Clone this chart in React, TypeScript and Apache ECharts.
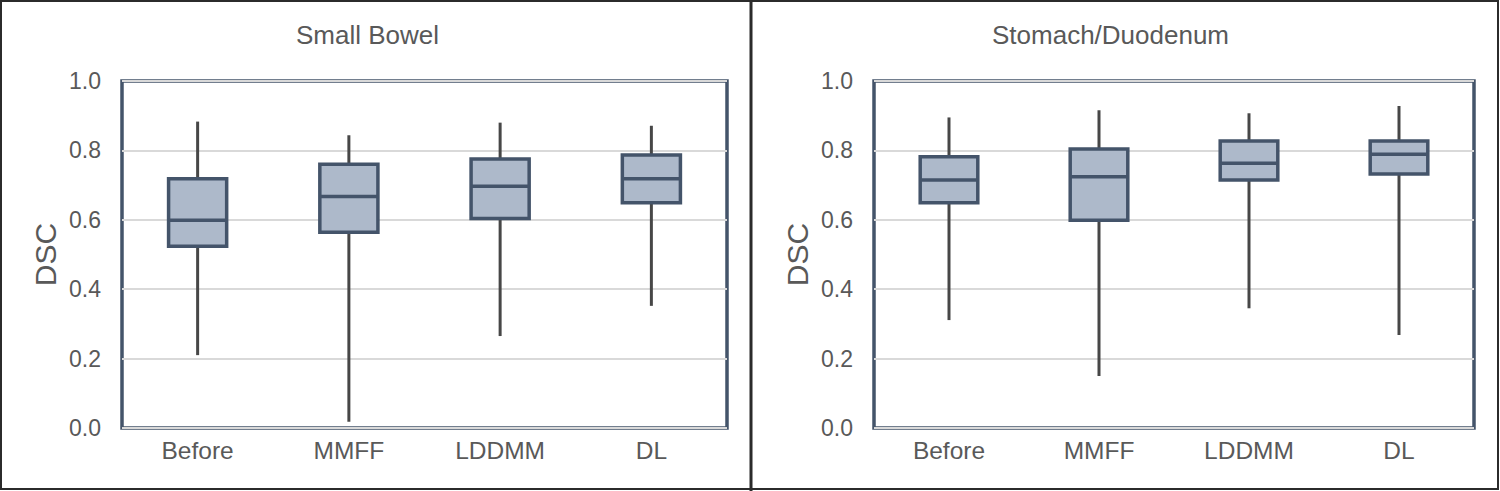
import React, { useEffect, useRef } from "react";
import * as echarts from "echarts";

const categories = ["Before", "MMFF", "LDDMM", "DL"];
const yTicks = ["0.0", "0.2", "0.4", "0.6", "0.8", "1.0"];
const panelTitles = ["Small Bowel", "Stomach/Duodenum"];

// [min, q1, median, q3, max]
const smallBowel = [
  [0.21, 0.524, 0.599, 0.718, 0.883],
  [0.018, 0.564, 0.667, 0.76, 0.844],
  [0.265, 0.604, 0.697, 0.775, 0.88],
  [0.352, 0.649, 0.718, 0.787, 0.871],
];
const stomachDuodenum = [
  [0.311, 0.649, 0.715, 0.782, 0.895],
  [0.15, 0.599, 0.724, 0.804, 0.916],
  [0.345, 0.715, 0.763, 0.827, 0.907],
  [0.268, 0.732, 0.789, 0.827, 0.928],
];

const FONT = '"Liberation Sans", Arial, sans-serif';
const TEXT = "#595959";
const BORDER = "#44546a";

function renderBox(params: any, api: any) {
  const x = api.value(0);
  const pMin = api.coord([x, api.value(1)]);
  const pQ1 = api.coord([x, api.value(2)]);
  const pMed = api.coord([x, api.value(3)]);
  const pQ3 = api.coord([x, api.value(4)]);
  const pMax = api.coord([x, api.value(5)]);
  const band = api.size([1, 0])[0];
  const hw = band * 0.192;
  const cx = pMed[0];
  return {
    type: "group",
    children: [
      {
        type: "line",
        shape: { x1: cx, y1: pMin[1], x2: cx, y2: pMax[1] },
        style: { stroke: "#474747", lineWidth: 3 },
      },
      {
        type: "rect",
        shape: { x: cx - hw, y: pQ3[1], width: hw * 2, height: pQ1[1] - pQ3[1] },
        style: { fill: "#adb9ca", stroke: BORDER, lineWidth: 3.5 },
      },
      {
        type: "line",
        shape: { x1: cx - hw, y1: pMed[1], x2: cx + hw, y2: pMed[1] },
        style: { stroke: BORDER, lineWidth: 3.5 },
      },
    ],
  };
}

export default function App() {
  const ref = useRef<HTMLDivElement>(null);
  useEffect(() => {
    if (!ref.current) return;
    const chart = echarts.init(ref.current, undefined, { renderer: "svg" });
    const grids = [
      { left: 122, top: 81, width: 605, height: 347 },
      { left: 874, top: 81, width: 600, height: 347 },
    ];
    const mkX = (i: number) => ({
      type: "category",
      gridIndex: i,
      data: categories,
      axisLine: { show: false },
      axisTick: { show: false },
      axisLabel: { color: TEXT, fontSize: 24.5, fontFamily: FONT, margin: 10 },
    });
    const mkY = (i: number) => ({
      type: "value",
      gridIndex: i,
      min: 0,
      max: 1,
      interval: 0.2,
      name: "DSC",
      nameLocation: "middle",
      nameRotate: 90,
      nameGap: 62,
      nameTextStyle: { color: TEXT, fontSize: 30, fontFamily: FONT },
      axisLine: { show: false },
      axisTick: { show: false },
      axisLabel: {
        color: TEXT,
        fontSize: 23,
        fontFamily: FONT,
        margin: 21,
        formatter: (v: number) => yTicks[Math.round(v * 5)] ?? v.toFixed(1),
      },
      splitLine: { show: true, lineStyle: { color: "#d9d9d9", width: 2 } },
    });
    const mkSeries = (i: number, vals: number[][]) => ({
      type: "custom",
      xAxisIndex: i,
      yAxisIndex: i,
      renderItem: renderBox,
      encode: { x: 0, y: [1, 2, 3, 4, 5] },
      data: vals.map((v, k) => [k, ...v]),
      z: 5,
    });
    chart.setOption({
      animation: false,
      backgroundColor: "#ffffff",
      grid: grids.map((g) => ({
        ...g,
        show: true,
        borderColor: BORDER,
        borderWidth: 3.5,
        backgroundColor: "transparent",
        containLabel: false,
      })),
      xAxis: [mkX(0), mkX(1)],
      yAxis: [mkY(0), mkY(1)],
      series: [mkSeries(0, smallBowel), mkSeries(1, stomachDuodenum)],
      graphic: [
        {
          type: "rect",
          shape: { x: 1, y: 1, width: 1497, height: 488 },
          style: { fill: "none", stroke: "#2b2b2b", lineWidth: 2 },
          z: 10,
        },
        {
          type: "line",
          shape: { x1: 751, y1: 0, x2: 751, y2: 491 },
          style: { stroke: "#2b2b2b", lineWidth: 3 },
          z: 10,
        },
        {
          type: "text",
          x: 367.5,
          y: 34.5,
          style: {
            text: panelTitles[0],
            fill: TEXT,
            fontSize: 26,
            fontFamily: FONT,
            textAlign: "center",
            textVerticalAlign: "middle",
          },
        },
        {
          type: "text",
          x: 1110.5,
          y: 34.5,
          style: {
            text: panelTitles[1],
            fill: TEXT,
            fontSize: 26,
            fontFamily: FONT,
            textAlign: "center",
            textVerticalAlign: "middle",
          },
        },
      ],
    });
    return () => chart.dispose();
  }, []);
  return (
    <div
      ref={ref}
      style={{ position: "fixed", left: 0, top: 0, width: 1500, height: 491 }}
    />
  );
}
